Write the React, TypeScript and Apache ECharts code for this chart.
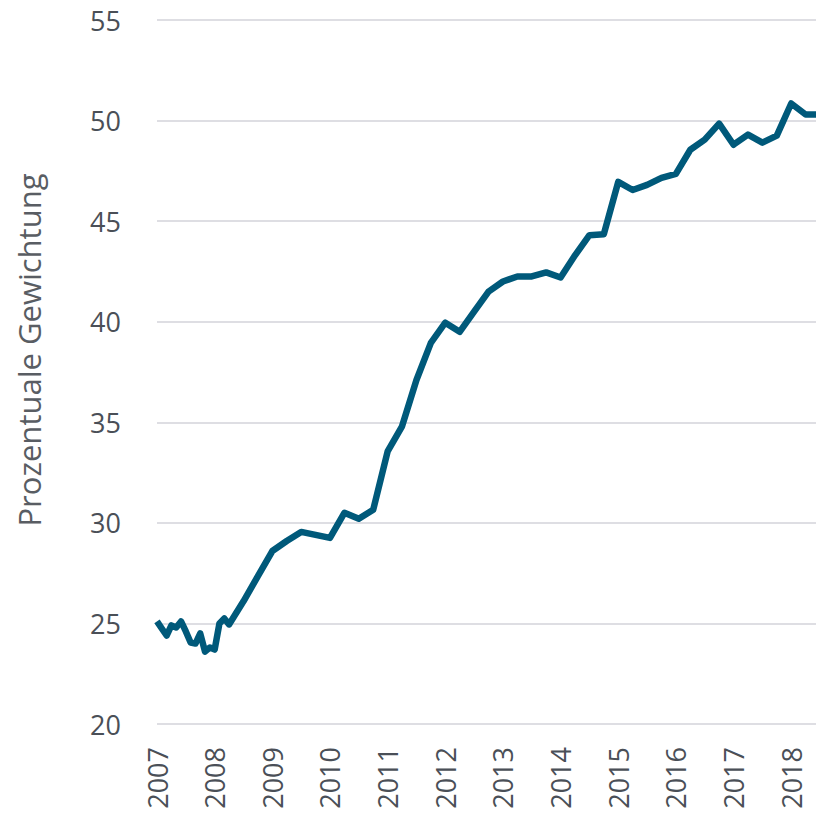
import React, { useEffect, useRef } from "react";
import * as echarts from "echarts";

const years: number[] = [
  2007.0, 2007.083, 2007.167, 2007.25, 2007.333, 2007.417, 2007.5, 2007.583, 2007.667, 2007.75,
  2007.833, 2007.917, 2008.0, 2008.083, 2008.167, 2008.25, 2008.5, 2008.75,
  2009.0, 2009.25, 2009.5, 2009.75, 2010.0, 2010.25, 2010.5, 2010.75,
  2011.0, 2011.25, 2011.5, 2011.75, 2012.0, 2012.25, 2012.5, 2012.75,
  2013.0, 2013.25, 2013.5, 2013.75, 2014.0, 2014.25, 2014.5, 2014.75,
  2015.0, 2015.25, 2015.5, 2015.75, 2016.0, 2016.25, 2016.5, 2016.75,
  2017.0, 2017.25, 2017.5, 2017.75, 2018.0, 2018.25, 2018.5,
];

const weights: number[] = [
  25.1, 24.75, 24.4, 24.9, 24.8, 25.1, 24.6, 24.05, 24.0, 24.5,
  23.6, 23.8, 23.7, 25.0, 25.25, 24.95, 26.1, 27.35,
  28.6, 29.1, 29.55, 29.4, 29.25, 30.5, 30.2, 30.65,
  33.55, 34.8, 37.1, 38.95, 39.95, 39.5, 40.5, 41.5,
  42.0, 42.25, 42.25, 42.45, 42.2, 43.3, 44.3, 44.35,
  46.95, 46.55, 46.8, 47.15, 47.35, 48.55, 49.05, 49.85,
  48.8, 49.3, 48.9, 49.25, 50.85, 50.3, 50.3,
];

const yTicks: number[] = [20, 25, 30, 35, 40, 45, 50, 55];
const yAxisTitle = "Prozentuale Gewichtung";

export default function App() {
  const ref = useRef<HTMLDivElement>(null);
  useEffect(() => {
    if (!ref.current) return;
    const chart = echarts.init(ref.current, null, { renderer: "svg" });
    const data = years.map((y, i) => [y, weights[i]]);
    chart.setOption({
      animation: false,
      backgroundColor: "#ffffff",
      grid: { left: 157, right: 0, top: 20, bottom: 101, containLabel: false },
      xAxis: {
        type: "value",
        min: 2007,
        max: 2018.43,
        interval: 1,
        axisLine: { show: false },
        axisTick: { show: false },
        splitLine: { show: false },
        axisLabel: {
          rotate: 90,
          margin: 23,
          fontSize: 27,
          color: "#4a4f57",
          fontFamily: "Open Sans",
          formatter: (v: number) => (Number.isInteger(v) ? String(v) : ""),
        },
      },
      yAxis: {
        type: "value",
        min: yTicks[0],
        max: yTicks[yTicks.length - 1],
        interval: 5,
        axisLine: { show: false },
        axisTick: { show: false },
        splitLine: { show: true, lineStyle: { color: "#dedee3", width: 2 } },
        axisLabel: {
          margin: 36,
          fontSize: 27,
          color: "#4a4f57",
          fontFamily: "Open Sans",
        },
      },
      graphic: [
        {
          type: "text",
          x: 29,
          y: 350,
          rotation: Math.PI / 2,
          style: {
            text: yAxisTitle,
            fontSize: 31,
            fontFamily: "Open Sans",
            fill: "#595d63",
            align: "center",
            verticalAlign: "middle",
          },
        },
      ],
      series: [
        {
          type: "line",
          data,
          showSymbol: false,
          symbol: "none",
          clip: true,
          lineStyle: { color: "#00597a", width: 6.5, join: "round" },
        },
      ],
    });
    return () => chart.dispose();
  }, []);
  return (
    <div
      ref={ref}
      style={{ position: "absolute", left: 0, top: 0, width: 816, height: 825 }}
    />
  );
}
